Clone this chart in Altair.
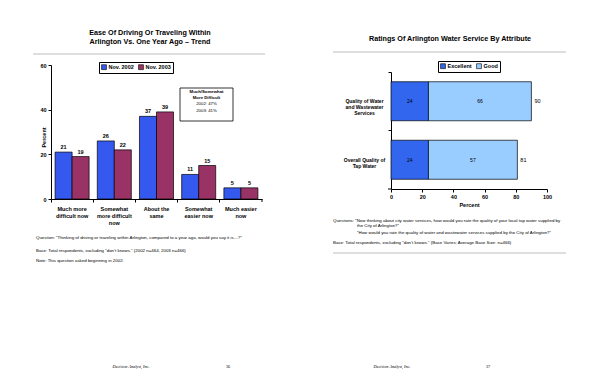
import altair as alt
import pandas as pd

FONT = "Liberation Sans"
SERIF = "Liberation Serif"

# ---------------- data: left page ----------------
drive_categories = ["Much more|difficult now", "Somewhat|more difficult|now",
                    "About the|same", "Somewhat|easier now", "Much easier|now"]
series_names = ["Nov. 2002", "Nov. 2003"]
nov_2002 = [21, 26, 37, 11, 5]
nov_2003 = [19, 22, 39, 15, 5]
series_colors = ["#3558EE", "#993366"]

left_title_lines = ["Ease Of Driving Or Traveling Within",
                    "Arlington Vs. One Year Ago \u2013 Trend"]
box_lines = ["Much/Somewhat", "More Difficult", "2002: 47%", "2003: 41%"]
left_notes = [
    "Question:  \u201cThinking of driving or traveling within Arlington, compared to a year ago, would you say it is\u2026?\u201d",
    "Base:  Total respondents, excluding \u201cdon\u2019t knows.\u201d  (2002 n=464, 2003 n=466)",
    "Note: This question asked beginning in 2002.",
]

# ---------------- data: right page ----------------
water_attributes = ["Quality of Water|and Wastewater|Services", "Overall Quality of|Tap Water"]
rating_names = ["Excellent", "Good"]
excellent = [24, 24]
good = [66, 57]
totals = [90, 81]
rating_colors = ["#3366EE", "#99CCFF"]
percent_ticks = [0, 20, 40, 60, 80, 100]

right_title = "Ratings Of Arlington Water Service By Attribute"
right_notes = [
    "Questions: \u201cNow thinking about city water services, how would you rate the quality of your local tap water supplied by",
    "the City of Arlington?\u201d",
    "\u201cHow would you rate the quality of water and wastewater services supplied by the City of Arlington?\u201d",
    "Base:  Total respondents, excluding \u201cdon\u2019t knows.\u201d  (Base Varies; Average Base Size: n=466)",
]
footer_text = "Decision Analyst, Inc."
page_numbers = ["36", "37"]

# ---------------- helpers ----------------
ONE = alt.Data(values=[{"a": 1}])


def txt(text, x, y, size=4, weight="normal", align="left", font=FONT, style="normal", color="black"):
    return alt.Chart(alt.Data(values=[{"t": text}])).mark_text(
        align=align, baseline="middle", fontSize=size, fontWeight=weight,
        font=font, fontStyle=style, color=color
    ).encode(x=alt.value(x), y=alt.value(y), text="t:N")


def hline(x1, x2, y, color="#bdbdbd", width=1.0):
    return alt.Chart(ONE).mark_rule(color=color, strokeWidth=width).encode(
        x=alt.value(x1), x2=alt.value(x2), y=alt.value(y))


def vline(x, y1, y2, color="black", width=1.0):
    return alt.Chart(ONE).mark_rule(color=color, strokeWidth=width).encode(
        x=alt.value(x), y=alt.value(y1), y2=alt.value(y2))


def legend(lx, ly):
    return alt.Legend(title=None, orient="none", legendX=lx, legendY=ly,
                      direction="horizontal", strokeColor="black",
                      fillColor="white", padding=2, symbolType="square",
                      symbolSize=24, symbolStrokeColor="black",
                      symbolStrokeWidth=0.6, labelFontSize=5.5,
                      labelFont=FONT, labelFontWeight="bold",
                      columnPadding=3, labelOffset=1.5, cornerRadius=0)


NOTE = 4.4

# ---------------- left chart ----------------
LW, LH = 211, 134
left_rows = []
for i, c in enumerate(drive_categories):
    left_rows.append({"category": c, "series": series_names[0], "value": nov_2002[i]})
    left_rows.append({"category": c, "series": series_names[1], "value": nov_2003[i]})
left_df = pd.DataFrame(left_rows)

lx = alt.X("category:N", sort=drive_categories,
           scale=alt.Scale(paddingInner=0, paddingOuter=0),
           axis=alt.Axis(title=None, labelExpr="split(datum.label, '|')", labelAngle=0,
                         bandPosition=0, tickSize=3, labelPadding=4, labelFontSize=5.5,
                         labelFontWeight="bold", labelLineHeight=7, labelBaseline="top",
                         labelOverlap=False))
lxo = alt.XOffset("series:N", sort=series_names,
                  scale=alt.Scale(paddingOuter=0.24, paddingInner=0))
ly = alt.Y("value:Q", scale=alt.Scale(domain=[0, 60], nice=False),
           axis=alt.Axis(values=[0, 20, 40, 60], grid=False, title="Percent",
                         titleX=-8, titleY=72, titleAngle=270, titleAlign="center",
                         titleBaseline="middle", titleFontSize=5.5, titleFontWeight="bold",
                         tickSize=3, labelPadding=2, labelFontSize=5.5, labelFontWeight="bold",
                         labelOverlap=False))

left_bars = alt.Chart(left_df).mark_bar(stroke="black", strokeWidth=0.7).encode(
    x=lx, xOffset=lxo, y=ly,
    color=alt.Color("series:N", sort=series_names,
                    scale=alt.Scale(domain=series_names, range=series_colors),
                    legend=legend(48, -3)),
)
left_vals = alt.Chart(left_df).mark_text(baseline="bottom", dy=-2, fontSize=5.5,
                                         fontWeight="bold", font=FONT, color="black").encode(
    x=lx, xOffset=lxo, y=ly, text="value:Q")

left_layers = [
    alt.Chart(ONE).mark_rule(color="white", strokeWidth=1).encode(
        x=alt.value(-42.5), x2=alt.value(-41.5), y=alt.value(-56.5)),
    txt(left_title_lines[0], 99, -32, size=7.2, weight="bold", align="center"),
    txt(left_title_lines[1], 99, -23, size=7.2, weight="bold", align="center"),
    hline(-18, 214, -11),
    left_bars, left_vals,
    vline(LW, LH, LH + 3),
    alt.Chart(ONE).mark_rect(fill="white", stroke="black", strokeWidth=0.8).encode(
        x=alt.value(129), x2=alt.value(182), y=alt.value(23), y2=alt.value(56)),
    txt(box_lines[0], 155.5, 26.7, size=4.3, weight="bold", align="center"),
    txt(box_lines[1], 155.5, 32.7, size=4.3, weight="bold", align="center"),
    txt(box_lines[2], 155.5, 39.3, size=4.3, align="center"),
    txt(box_lines[3], 155.5, 46, size=4.3, align="center"),
    txt(left_notes[0], -15, 173, size=NOTE),
    txt(left_notes[1], -15, 186, size=NOTE),
    txt(left_notes[2], -15, 196, size=NOTE),
    txt(footer_text, 80, 302, size=4.2, font=SERIF, style="italic", align="center"),
    txt(page_numbers[0], 177, 302, size=4.2, font=SERIF, align="center"),
]
left = alt.layer(*left_layers).properties(width=LW, height=LH)

# ---------------- right chart ----------------
RW, RH = 156, 124
right_rows = []
for i, a in enumerate(water_attributes):
    right_rows.append({"attribute": a, "rating": rating_names[0], "value": excellent[i], "order": 0})
    right_rows.append({"attribute": a, "rating": rating_names[1], "value": good[i], "order": 1})
right_df = pd.DataFrame(right_rows)
total_df = pd.DataFrame({"attribute": water_attributes, "total": totals})

ry = alt.Y("attribute:N", sort=water_attributes,
           scale=alt.Scale(range=[7, RH], paddingInner=0, paddingOuter=0),
           axis=alt.Axis(title=None, labelExpr="split(datum.label, '|')", bandPosition=0,
                         tickSize=3, labelAlign="center", labelPadding=24, labelFontSize=5,
                         labelFontWeight="bold", labelLineHeight=5.8, labelBaseline="middle",
                         labelOverlap=False))
rxscale = alt.Scale(domain=[0, 100], nice=False)
raxis = alt.Axis(values=percent_ticks, tickCount=6, grid=False, title="Percent",
                 tickSize=3, labelPadding=2, labelFontSize=5.5, labelFontWeight="bold",
                 titleFontSize=5.5, titleFontWeight="bold", titlePadding=3,
                 labelOverlap=False, labelFlush=False)

stacked = alt.Chart(right_df).transform_stack(
    stack="value", groupby=["attribute"], as_=["x0", "x1"], sort=[alt.SortField("order")]
).transform_calculate(mid="(datum.x0 + datum.x1) / 2")

right_bars = stacked.mark_bar(stroke="black", strokeWidth=0.7,
                              height=alt.RelativeBandSize(band=0.667)).encode(
    x=alt.X("x0:Q", scale=rxscale, axis=raxis), x2="x1:Q", y=ry,
    color=alt.Color("rating:N", sort=rating_names,
                    scale=alt.Scale(domain=rating_names, range=rating_colors),
                    legend=legend(47, -4)),
)
right_seg = stacked.mark_text(fontSize=5, font=FONT, color="black").encode(
    x=alt.X("mid:Q", scale=rxscale, axis=raxis), y=ry, text="value:Q")
right_tot = alt.Chart(total_df).mark_text(align="left", dx=3, fontSize=5.5, font=FONT,
                                          color="black").encode(
    x=alt.X("total:Q", scale=rxscale, axis=raxis), y=ry, text="total:Q")

right_layers = [
    txt(right_title, 59, -26, size=7.2, weight="bold", align="center"),
    hline(-58, 175, -13),
    right_bars, right_seg, right_tot,
    alt.Chart(ONE).mark_rule(color="black", strokeWidth=1).encode(
        x=alt.value(-3), x2=alt.value(0), y=alt.value(RH)),
    txt(right_notes[0], -58, 156, size=NOTE),
    txt(right_notes[1], -34, 161, size=NOTE),
    txt(right_notes[2], -34, 168, size=NOTE),
    txt(right_notes[3], -58, 178, size=NOTE),
    hline(-58, 175, 188),
    txt(footer_text, 1, 302, size=4.2, font=SERIF, style="italic", align="center"),
    txt(page_numbers[1], 97, 302, size=4.2, font=SERIF, align="center"),
]
right = alt.layer(*right_layers).properties(width=RW, height=RH)

chart = alt.hconcat(left, right, spacing=129, bounds="flush").resolve_scale(
    color="independent", x="independent", y="independent"
).resolve_legend(color="independent").properties(
    padding=0, autosize=alt.AutoSizeParams(type="pad")
).configure_view(stroke=None).configure_axis(
    domainColor="black", tickColor="black", labelColor="black", titleColor="black",
    labelFont=FONT, titleFont=FONT, domainWidth=1, tickWidth=1
)

chart.save("out.html", embed_options={"renderer": "svg", "actions": False})
